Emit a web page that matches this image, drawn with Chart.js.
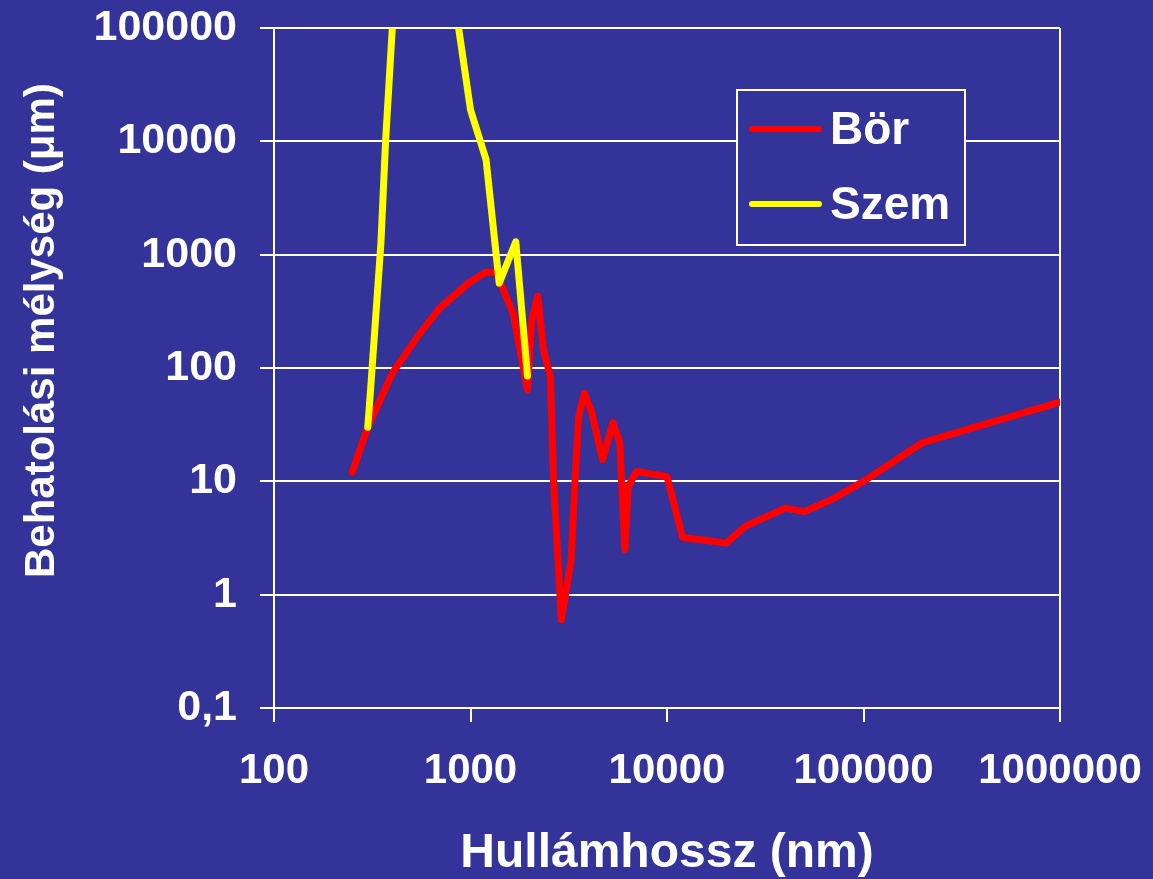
<!DOCTYPE html>
<html>
<head>
<meta charset="utf-8">
<script src="https://cdn.jsdelivr.net/npm/chart.js@4.4.1/dist/chart.umd.min.js"></script>
<style>
  html, body { margin: 0; padding: 0; background: #333399; }
</style>
</head>
<body>
<canvas id="chart" width="1153" height="879"></canvas>
<script>
// Bör (skin) – penetration depth (µm) by wavelength (nm)
const borWavelength = [250, 300, 400, 550, 700, 1000, 1200, 1350, 1650, 1950, 2050, 2200, 2350, 2550, 2650, 2900, 3250, 3400, 3550, 3800, 4150, 4700, 5300, 5750, 6100, 6350, 7000, 10000, 12000, 20000, 25000, 40000, 50000, 70000, 100000, 200000, 1000000];
const borDepth = [12, 30, 90, 200, 340, 580, 700, 700, 300, 64, 266, 430, 145, 84, 9.6, 0.6, 2, 10, 37, 60, 40, 15.5, 33, 22, 2.5, 9, 12.2, 11, 3.2, 2.85, 4, 5.8, 5.4, 7, 10, 22, 50];

// Szem (eye) – goes off the top between ~400 and ~870 nm
const szemWavelength = [300, 310, 350, 370, 400, 500, 700, 870, 1000, 1200, 1400, 1700, 1950];
const szemDepth = [30, 64, 1260, 10300, 100000, 10000000, 1000000, 100000, 19000, 6900, 560, 1300, 85];

const seriesLabels = ['Bör', 'Szem'];
const xTickValues = [100, 1000, 10000, 100000, 1000000];
const xTickLabels = ['100', '1000', '10000', '100000', '1000000'];
const yTickValues = [0.1, 1, 10, 100, 1000, 10000, 100000];
const yTickLabels = ['0,1', '1', '10', '100', '1000', '10000', '100000'];
const xTitle = 'Hullámhossz (nm)';
const yTitle = 'Behatolási mélység (μm)';

const BG = '#333399';
const FONT = "'Liberation Sans', Arial, sans-serif";

const toPoints = (xs, ys) => xs.map((x, i) => ({ x: x, y: ys[i] }));

// legend box inside the plot area (top right)
const legendBox = {
  id: 'legendBox',
  afterDraw(chart) {
    const { ctx, chartArea } = chart;
    const w = 228, h = 155;
    const x = chartArea.right - 95 - w;
    const y = chartArea.top + 62;
    ctx.save();
    ctx.fillStyle = BG;
    ctx.fillRect(x, y, w, h);
    ctx.strokeStyle = '#ffffff';
    ctx.lineWidth = 2;
    ctx.strokeRect(x, y, w, h);
    ctx.font = 'bold 46px ' + FONT;
    ctx.textBaseline = 'middle';
    chart.data.datasets.forEach((ds, i) => {
      const ly = y + 39 + i * 75;
      ctx.strokeStyle = ds.borderColor;
      ctx.lineWidth = 6;
      ctx.lineCap = 'round';
      ctx.beginPath();
      ctx.moveTo(x + 15, ly);
      ctx.lineTo(x + 82, ly);
      ctx.stroke();
      ctx.fillStyle = '#ffffff';
      ctx.fillText(ds.label, x + 93, ly + 2);
    });
    ctx.restore();
  }
};

// y axis title sits a bit above the centre in the original
const yTitlePlugin = {
  id: 'yTitle',
  afterDraw(chart) {
    const { ctx, chartArea } = chart;
    ctx.save();
    ctx.translate(42, chartArea.top + (chartArea.bottom - chartArea.top) * 0.445);
    ctx.rotate(-Math.PI / 2);
    ctx.font = 'bold 42px ' + FONT;
    ctx.fillStyle = '#ffffff';
    ctx.textAlign = 'center';
    ctx.textBaseline = 'middle';
    ctx.fillText(yTitle, 0, 0);
    ctx.restore();
  }
};

new Chart(document.getElementById('chart'), {
  type: 'line',
  data: {
    datasets: [
      {
        label: seriesLabels[0],
        data: toPoints(borWavelength, borDepth),
        borderColor: '#ff0000',
        borderWidth: 7,
        borderJoinStyle: 'round',
        borderCapStyle: 'round',
        pointRadius: 0,
        tension: 0,
        order: 1
      },
      {
        label: seriesLabels[1],
        data: toPoints(szemWavelength, szemDepth),
        borderColor: '#ffff00',
        borderWidth: 7,
        borderJoinStyle: 'round',
        borderCapStyle: 'round',
        pointRadius: 0,
        tension: 0,
        clip: 0,
        order: 0
      }
    ]
  },
  options: {
    responsive: false,
    animation: false,
    devicePixelRatio: 1,
    layout: { padding: { left: 0, right: 93, top: 28, bottom: 0 } },
    plugins: {
      legend: { display: false },
      tooltip: { enabled: false }
    },
    scales: {
      x: {
        type: 'logarithmic',
        min: 100,
        max: 1000000,
        afterBuildTicks: (scale) => { scale.ticks = xTickValues.map(v => ({ value: v })); },
        afterFit: (scale) => {
          scale.height = 171;
          scale.paddingLeft = 0;
          scale.paddingRight = 0;
        },
        ticks: {
          autoSkip: false,
          maxRotation: 0,
          padding: 24,
          color: '#ffffff',
          font: { family: FONT, size: 42, weight: 'bold' },
          callback: (value) => xTickLabels[xTickValues.indexOf(value)]
        },
        grid: {
          drawOnChartArea: true,
          color: (ctx) => (ctx.tick && ctx.tick.value === 1000000 ? '#ffffff' : 'rgba(0,0,0,0)'),
          tickColor: '#ffffff',
          tickLength: 14,
          lineWidth: 2
        },
        border: { display: true, color: '#ffffff', width: 2 },
        title: {
          display: true,
          text: xTitle,
          color: '#ffffff',
          font: { family: FONT, size: 48, weight: 'bold' },
          padding: { top: 0, bottom: -4 }
        }
      },
      y: {
        type: 'logarithmic',
        min: 0.1,
        max: 100000,
        afterBuildTicks: (scale) => { scale.ticks = yTickValues.map(v => ({ value: v })); },
        afterFit: (scale) => {
          scale.width = 274;
          scale.paddingTop = 0;
          scale.paddingBottom = 0;
        },
        ticks: {
          autoSkip: false,
          padding: 23,
          color: '#ffffff',
          font: { family: FONT, size: 43, weight: 'bold' },
          callback: (value) => yTickLabels[yTickValues.indexOf(value)]
        },
        grid: {
          color: '#ffffff',
          tickColor: '#ffffff',
          tickLength: 14,
          lineWidth: 2
        },
        border: { display: true, color: '#ffffff', width: 2 }
      }
    }
  },
  plugins: [legendBox, yTitlePlugin]
});
</script>
</body>
</html>
